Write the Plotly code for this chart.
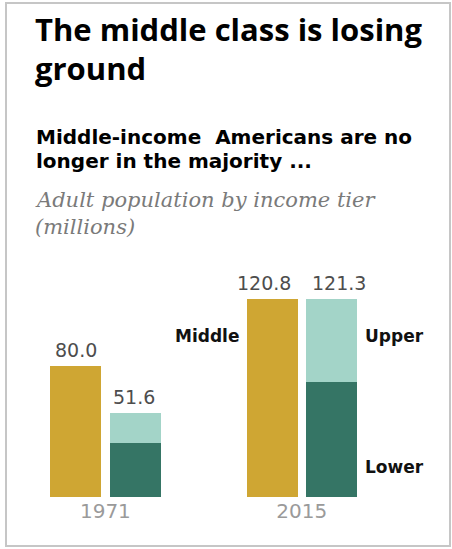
import plotly.graph_objects as go

# ---- data ----
years = ["1971", "2015"]
middle = [80.0, 120.8]
lower = [33.3, 70.5]
upper = [18.3, 50.8]
tier_labels = ["Middle", "Upper", "Lower"]

title_lines = ["The middle class is losing", "ground"]
subtitle_lines = ["Middle-income  Americans are no", "longer in the majority ..."]
note_lines = ["Adult population by income tier", "(millions)"]

# ---- colours ----
C_MID = "#CFA633"
C_UP = "#A3D4C8"
C_LOW = "#357565"

W, H = 452, 549
PB, PT = 497, 268          # plot bottom / top in pixels
YMAX = (PB - PT) / 1.635   # data units spanned by plot height
UNIT = 196.4               # px per group
G0 = 105.4                 # px of first group centre
d = 29.6 / UNIT            # half distance between bars in a group
bw = 51 / UNIT             # bar width

def py(ypx):
    return (PB - ypx) / (PB - PT)

def px(xpx):
    return xpx / W

gx = list(range(len(years)))
x_mid = [g - d for g in gx]
x_stk = [g + d for g in gx]
totals = [round(l + u, 1) for l, u in zip(lower, upper)]

fig = go.Figure()
fig.add_trace(go.Bar(x=x_mid, y=middle, width=bw, marker=dict(color=C_MID, line=dict(width=0)),
                     name="Middle", hoverinfo="y"))
fig.add_trace(go.Bar(x=x_stk, y=lower, width=bw, marker=dict(color=C_LOW, line=dict(width=0)),
                     name="Lower", hoverinfo="y"))
fig.add_trace(go.Bar(x=x_stk, y=upper, width=bw, marker=dict(color=C_UP, line=dict(width=0)),
                     name="Upper", hoverinfo="y"))

ann = []
val_font = dict(family="DejaVu Sans", size=19, color="#4d4d4d")
mid_shift = [0, -8]
stk_shift = [-1, 8]
for xm, v, s in zip(x_mid, middle, mid_shift):
    ann.append(dict(x=xm, y=v, text=f"{v:.1f}", showarrow=False, yanchor="middle",
                    yshift=16, xshift=s, font=val_font))
for xs, t, s in zip(x_stk, totals, stk_shift):
    ann.append(dict(x=xs, y=t, text=f"{t:.1f}", showarrow=False, yanchor="middle",
                    yshift=16, xshift=s, font=val_font))

lab_font = dict(family="DejaVu Sans", size=17, color="#111111", weight="bold")
ann.append(dict(x=x_mid[1] - bw / 2, y=98.3, text=tier_labels[0], showarrow=False,
                xanchor="right", xshift=-6, yanchor="middle", font=lab_font))
ann.append(dict(x=x_stk[1] + bw / 2, y=98.3, text=tier_labels[1], showarrow=False,
                xanchor="left", xshift=6, yanchor="middle", font=lab_font))
ann.append(dict(x=x_stk[1] + bw / 2, y=18.2, text=tier_labels[2], showarrow=False,
                xanchor="left", xshift=6, yanchor="middle", font=lab_font))

# header text
t_font = dict(family="Open Sans", size=31, color="#000000", weight="bold")
s_font = dict(family="DejaVu Sans", size=20, color="#000000", weight="bold")
n_font = dict(family="DejaVu Serif", size=21, color="#7a7a7a", style="italic")
for i, line in enumerate(title_lines):
    ann.append(dict(xref="paper", yref="paper", x=px(33), y=py(6 + i * 39), text=line,
                    showarrow=False, xanchor="left", yanchor="top", font=t_font))
for i, line in enumerate(subtitle_lines):
    ann.append(dict(xref="paper", yref="paper", x=px(34), y=py(123 + i * 24), text=line,
                    showarrow=False, xanchor="left", yanchor="top", font=s_font))
for i, line in enumerate(note_lines):
    ann.append(dict(xref="paper", yref="paper", x=px(33), y=py(186 + i * 27), text=line,
                    showarrow=False, xanchor="left", yanchor="top", font=n_font))

fig.update_layout(
    width=W, height=H,
    margin=dict(l=0, r=0, t=PT, b=H - PB, pad=0),
    paper_bgcolor="white", plot_bgcolor="white",
    barmode="stack", showlegend=False,
    annotations=ann,
    shapes=[dict(type="rect", xref="paper", yref="paper",
                 x0=px(6), x1=px(450), y0=py(546), y1=py(3),
                 line=dict(color="#c6c6c6", width=2), fillcolor="rgba(0,0,0,0)")],
    xaxis=dict(range=[-G0 / UNIT, (W - G0) / UNIT], tickvals=gx, ticktext=years,
               showgrid=False, zeroline=False, showline=False, ticks="",
               tickfont=dict(family="DejaVu Sans", size=20, color="#9a9a9a"),
               fixedrange=True),
    yaxis=dict(range=[0, YMAX], visible=False, fixedrange=True),
)

fig.write_html("out.html")
